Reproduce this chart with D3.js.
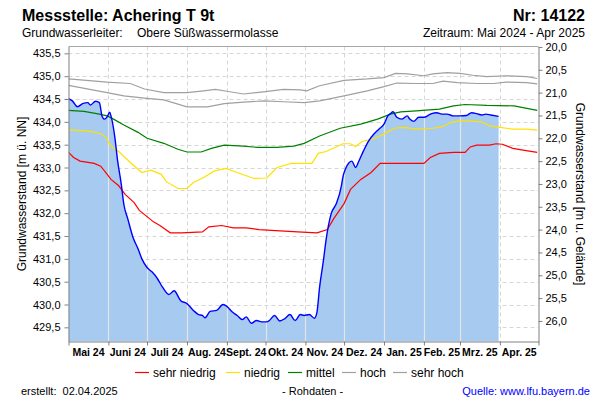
<!DOCTYPE html>
<html><head><meta charset="utf-8">
<script src="https://cdn.jsdelivr.net/npm/d3@7"></script>
<style>
body{margin:0;background:#fff}
svg{display:block;font-family:"Liberation Sans",Arial,Helvetica,sans-serif}
</style>
</head><body>
<svg id="chart" width="600" height="400"></svg>
<script>
// ---------- DATA ----------
const monthLabels = ["Mai 24","Juni 24","Juli 24","Aug. 24","Sept. 24","Okt. 24","Nov. 24","Dez. 24","Jan. 25","Feb. 25","Mrz. 25","Apr. 25"];
const monthStarts = ["2024-05-01","2024-06-01","2024-07-01","2024-08-01","2024-09-01","2024-10-01","2024-11-01","2024-12-01","2025-01-01","2025-02-01","2025-03-01","2025-04-01","2025-05-01"];
const leftTicks = [429.5,430.0,430.5,431.0,431.5,432.0,432.5,433.0,433.5,434.0,434.5,435.0,435.5];
const rightTicks = [20.0,20.5,21.0,21.5,22.0,22.5,23.0,23.5,24.0,24.5,25.0,25.5,26.0];
const groundLevel = 455.64;

const messwerte = [["2024-05-01",434.51],["2024-05-04",434.46],["2024-05-08",434.33],["2024-05-12",434.40],["2024-05-16",434.42],["2024-05-18",434.37],["2024-05-22",434.45],["2024-05-25",434.42],["2024-05-27",434.13],["2024-05-29",434.06],["2024-05-31",434.11],["2024-06-02",434.21],["2024-06-03",434.13],["2024-06-06",433.66],["2024-06-08",433.18],["2024-06-11",432.63],["2024-06-13",432.19],["2024-06-16",431.88],["2024-06-20",431.48],["2024-06-24",431.22],["2024-06-27",431.00],["2024-07-01",430.81],["2024-07-05",430.71],["2024-07-09",430.57],["2024-07-13",430.38],["2024-07-18",430.22],["2024-07-22",430.30],["2024-07-27",430.09],["2024-08-01",430.02],["2024-08-06",429.87],["2024-08-10",429.78],["2024-08-13",429.76],["2024-08-15",429.71],["2024-08-19",429.85],["2024-08-24",429.87],["2024-08-29",430.00],["2024-09-01",429.96],["2024-09-05",429.84],["2024-09-09",429.76],["2024-09-13",429.67],["2024-09-16",429.73],["2024-09-20",429.59],["2024-09-24",429.65],["2024-09-28",429.62],["2024-10-02",429.62],["2024-10-04",429.65],["2024-10-08",429.76],["2024-10-12",429.64],["2024-10-16",429.69],["2024-10-20",429.78],["2024-10-24",429.65],["2024-10-28",429.78],["2024-10-31",429.76],["2024-11-04",429.78],["2024-11-08",429.70],["2024-11-10",429.84],["2024-11-12",430.38],["2024-11-15",430.97],["2024-11-17",431.41],["2024-11-21",431.99],["2024-11-25",432.21],["2024-11-29",432.61],["2024-11-30",432.78],["2024-12-02",432.96],["2024-12-05",433.11],["2024-12-07",433.14],["2024-12-10",433.00],["2024-12-12",433.11],["2024-12-16",433.36],["2024-12-20",433.58],["2024-12-24",433.73],["2024-12-28",433.84],["2025-01-01",433.95],["2025-01-04",434.13],["2025-01-06",434.18],["2025-01-08",434.22],["2025-01-11",434.10],["2025-01-15",434.06],["2025-01-19",434.13],["2025-01-21",434.06],["2025-01-24",434.01],["2025-01-28",434.10],["2025-02-01",434.10],["2025-02-05",434.15],["2025-02-07",434.18],["2025-02-11",434.20],["2025-02-15",434.17],["2025-02-19",434.17],["2025-02-24",434.13],["2025-03-01",434.13],["2025-03-06",434.14],["2025-03-10",434.20],["2025-03-14",434.18],["2025-03-18",434.15],["2025-03-21",434.17],["2025-03-25",434.15],["2025-03-31",434.12]];

const sehrNiedrig = [["2024-05-01",433.33],["2024-05-05",433.22],["2024-05-10",433.14],["2024-05-21",433.09],["2024-05-26",433.03],["2024-05-30",432.89],["2024-06-03",432.74],["2024-06-09",432.60],["2024-06-14",432.41],["2024-06-21",432.23],["2024-06-25",432.06],["2024-07-06",431.81],["2024-07-11",431.73],["2024-07-19",431.57],["2024-07-28",431.57],["2024-08-13",431.59],["2024-08-18",431.70],["2024-08-28",431.73],["2024-09-06",431.68],["2024-09-16",431.68],["2024-09-26",431.64],["2024-10-09",431.62],["2024-10-26",431.59],["2024-11-10",431.57],["2024-11-18",431.64],["2024-11-23",431.88],["2024-12-01",432.21],["2024-12-06",432.52],["2024-12-14",432.74],["2024-12-22",432.89],["2024-12-29",433.09],["2025-02-01",433.09],["2025-02-06",433.22],["2025-02-13",433.31],["2025-02-24",433.33],["2025-03-05",433.33],["2025-03-09",433.45],["2025-03-14",433.49],["2025-03-24",433.49],["2025-03-29",433.52],["2025-04-03",433.51],["2025-04-11",433.42],["2025-04-19",433.38],["2025-04-30",433.33]];

const niedrig = [["2024-05-01",433.83],["2024-05-18",433.79],["2024-05-26",433.74],["2024-05-30",433.66],["2024-06-03",433.47],["2024-06-09",433.35],["2024-06-18",433.11],["2024-06-27",432.89],["2024-07-04",432.94],["2024-07-12",432.85],["2024-07-16",432.69],["2024-07-25",432.54],["2024-08-01",432.54],["2024-08-06",432.67],["2024-08-14",432.78],["2024-08-22",432.92],["2024-08-31",432.98],["2024-09-09",432.89],["2024-09-22",432.76],["2024-10-02",432.77],["2024-10-10",433.00],["2024-10-21",433.09],["2024-11-06",433.09],["2024-11-11",433.31],["2024-11-17",433.35],["2024-11-24",433.44],["2024-11-30",433.52],["2024-12-06",433.52],["2024-12-10",433.46],["2024-12-15",433.57],["2024-12-23",433.62],["2024-12-29",433.69],["2025-01-04",433.78],["2025-01-09",433.86],["2025-01-16",433.88],["2025-01-26",433.84],["2025-02-08",433.86],["2025-02-16",433.90],["2025-02-22",433.99],["2025-03-01",434.02],["2025-03-06",434.02],["2025-03-18",434.00],["2025-03-24",433.91],["2025-04-01",433.88],["2025-04-11",433.84],["2025-04-22",433.84],["2025-04-30",433.82]];

const mittel = [["2024-05-01",434.25],["2024-05-13",434.23],["2024-05-23",434.18],["2024-05-31",434.13],["2024-06-05",434.06],["2024-06-13",433.93],["2024-06-24",433.77],["2024-07-01",433.64],["2024-07-14",433.53],["2024-07-25",433.40],["2024-08-01",433.34],["2024-08-12",433.34],["2024-08-20",433.42],["2024-08-30",433.49],["2024-09-14",433.47],["2024-09-25",433.44],["2024-10-10",433.44],["2024-10-23",433.47],["2024-10-31",433.53],["2024-11-12",433.69],["2024-11-28",433.86],["2024-12-14",433.95],["2024-12-27",434.06],["2025-01-06",434.17],["2025-01-14",434.22],["2025-01-26",434.24],["2025-02-13",434.28],["2025-02-24",434.35],["2025-03-05",434.38],["2025-03-22",434.36],["2025-04-12",434.35],["2025-04-19",434.31],["2025-04-30",434.25]];

const hoch = [["2024-05-01",434.80],["2024-05-31",434.64],["2024-06-13",434.57],["2024-06-29",434.52],["2024-07-14",434.48],["2024-08-01",434.33],["2024-08-17",434.33],["2024-08-30",434.40],["2024-09-14",434.43],["2024-09-30",434.46],["2024-10-15",434.44],["2024-10-31",434.42],["2024-11-12",434.46],["2024-12-01",434.57],["2024-12-19",434.68],["2025-01-01",434.77],["2025-01-11",434.85],["2025-01-26",434.84],["2025-02-08",434.84],["2025-02-16",434.89],["2025-02-27",434.86],["2025-03-14",434.84],["2025-03-27",434.84],["2025-04-06",434.87],["2025-04-22",434.86],["2025-04-30",434.83]];

const sehrHoch = [["2024-05-01",434.94],["2024-05-31",434.87],["2024-06-18",434.84],["2024-06-29",434.72],["2024-07-14",434.64],["2024-08-01",434.64],["2024-08-14",434.68],["2024-08-23",434.71],["2024-09-01",434.67],["2024-09-14",434.61],["2024-10-01",434.66],["2024-10-15",434.71],["2024-10-28",434.70],["2024-11-02",434.68],["2024-11-12",434.79],["2024-12-01",434.91],["2024-12-19",434.94],["2025-01-01",434.97],["2025-01-10",435.06],["2025-01-19",435.05],["2025-02-01",435.01],["2025-02-08",435.05],["2025-02-19",435.08],["2025-03-01",435.06],["2025-03-11",435.02],["2025-03-22",434.99],["2025-04-06",435.01],["2025-04-22",434.99],["2025-04-30",434.95]];

const legendLabels = ["sehr niedrig","niedrig","mittel","hoch","sehr hoch"];
const legendColors = ["#ff0000","#ffe100","#008000","#a0a0a0","#a0a0a0"];

// ---------- CHART ----------
const parse = d3.timeParse("%Y-%m-%d");
const svg = d3.select("#chart");
const L = 68.5, R = 538.5, T = 46.5, B = 341.5;

const x = d3.scaleTime().domain([parse(monthStarts[0]), parse(monthStarts[12])]).range([L, R]);
const y = d3.scaleLinear().domain([429.19, 435.65]).range([B, T]);
const yDepth = d3.scaleLinear().domain([groundLevel - 429.19, groundLevel - 435.65]).range([B, T]);
const fmt = v => d3.format(".1f")(v).replace(".", ",");

svg.append("defs").append("clipPath").attr("id","plot")
  .append("rect").attr("x",L).attr("y",T).attr("width",R-L).attr("height",B-T);

const plot = svg.append("g").attr("clip-path","url(#plot)");

// dashed grid
plot.append("g").selectAll("line").data(leftTicks).join("line")
  .attr("x1",L).attr("x2",R).attr("y1",d=>Math.round(y(d))+0.5).attr("y2",d=>Math.round(y(d))+0.5)
  .attr("stroke","#d6d6d6").attr("stroke-dasharray","4,3");
plot.append("g").selectAll("line").data(monthStarts.slice(1,12)).join("line")
  .attr("x1",d=>Math.round(x(parse(d)))+0.5).attr("x2",d=>Math.round(x(parse(d)))+0.5)
  .attr("y1",T).attr("y2",B)
  .attr("stroke","#d6d6d6").attr("stroke-dasharray","4,3");

// area
const pts = messwerte.map(d=>[parse(d[0]), d[1]]);
const area = d3.area().x(d=>x(d[0])).y0(B).y1(d=>y(d[1])).curve(d3.curveMonotoneX);
plot.append("path").datum(pts).attr("d",area).attr("fill","#a6caf0");
svg.select("defs").append("clipPath").attr("id","areaClip")
  .append("path").datum(pts).attr("d",area);
plot.append("g").attr("clip-path","url(#areaClip)").selectAll("line").data(monthStarts.slice(1,12)).join("line")
  .attr("x1",d=>Math.round(x(parse(d)))+0.5).attr("x2",d=>Math.round(x(parse(d)))+0.5)
  .attr("y1",T).attr("y2",B).attr("stroke","#e4e4e4").attr("stroke-width",1.2);

// stat lines
const line = d3.line().x(d=>x(parse(d[0]))).y(d=>y(d[1]));
[[sehrHoch,"#a0a0a0"],[hoch,"#a0a0a0"],[mittel,"#008000"],[niedrig,"#ffe100"],[sehrNiedrig,"#ff0000"]].forEach(([s,c])=>{
  plot.append("path").datum(s).attr("d",line).attr("fill","none").attr("stroke",c).attr("stroke-width",1.2);
});
const mline = d3.line().x(d=>x(d[0])).y(d=>y(d[1])).curve(d3.curveMonotoneX);
plot.append("path").datum(pts).attr("d",mline).attr("fill","none").attr("stroke","#0000ff").attr("stroke-width",1.4);

// frame
svg.append("line").attr("x1",L).attr("x2",R).attr("y1",T).attr("y2",T).attr("stroke","#a8a8a8");

// axes
const styleAxis = g => { g.select(".domain").attr("stroke","#808080"); g.selectAll(".tick line").attr("stroke","#808080");
  g.selectAll(".tick text").attr("fill","#000").attr("font-size","11px").attr("font-family","Liberation Sans, Arial, sans-serif"); };
svg.append("g").attr("transform",`translate(${L},0)`)
  .call(d3.axisLeft(y).tickValues(leftTicks).tickFormat(fmt).tickSize(4).tickPadding(4).tickSizeOuter(0)).call(styleAxis);
svg.append("g").attr("transform",`translate(${R},0)`)
  .call(d3.axisRight(yDepth).tickValues(rightTicks).tickFormat(fmt).tickSize(4).tickPadding(3).tickSizeOuter(0)).call(styleAxis);
const xa = svg.append("g").attr("transform",`translate(0,${B})`)
  .call(d3.axisBottom(x).tickValues(monthStarts.map(parse)).tickFormat("").tickSize(4).tickSizeOuter(0)).call(styleAxis);
// month labels centered in month
svg.append("g").selectAll("text").data(monthLabels).join("text")
  .attr("x",(d,i)=>(x(parse(monthStarts[i]))+x(parse(monthStarts[i+1])))/2)
  .attr("y",355.5).attr("text-anchor","middle").attr("font-size","10.5px").attr("font-weight","bold").text(d=>d);

// axis titles
svg.append("text").attr("transform","translate(25.5,194) rotate(-90)").attr("text-anchor","middle")
  .attr("font-size","12px").text("Grundwasserstand [m ü. NN]");
svg.append("text").attr("transform","translate(575.5,194) rotate(90)").attr("text-anchor","middle")
  .attr("font-size","12px").text("Grundwasserstand [m u. Gelände]");

// titles
svg.append("text").attr("x",22).attr("y",20.5).attr("font-size","16px").attr("font-weight","bold").text("Messstelle: Achering T 9t");
svg.append("text").attr("x",585).attr("y",20.5).attr("text-anchor","end").attr("font-size","16px").attr("font-weight","bold").text("Nr: 14122");
svg.append("text").attr("x",22).attr("y",37).attr("font-size","12px").text("Grundwasserleiter:");
svg.append("text").attr("x",137).attr("y",37).attr("font-size","12px").text("Obere Süßwassermolasse");
svg.append("text").attr("x",585).attr("y",37).attr("text-anchor","end").attr("font-size","12px").text("Zeitraum: Mai 2024 - Apr 2025");

// legend
const legendX = [135,226,288,342,393];
const lg = svg.append("g").selectAll("g").data(legendLabels).join("g")
  .attr("transform",(d,i)=>`translate(${legendX[i]},0)`);
lg.append("line").attr("x1",0).attr("x2",14).attr("y1",372.5).attr("y2",372.5)
  .attr("stroke",(d,i)=>legendColors[i]).attr("stroke-width",1.2);
lg.append("text").attr("x",18).attr("y",377).attr("font-size","12px").text(d=>d);

// footer
svg.append("text").attr("x",21).attr("y",395).attr("font-size","11px").style("white-space","pre").text("erstellt:  02.04.2025");
svg.append("text").attr("x",282).attr("y",395).attr("font-size","11px").text("- Rohdaten -");
svg.append("text").attr("x",590).attr("y",395).attr("text-anchor","end").attr("font-size","11px").attr("fill","#0000ff").text("Quelle: www.lfu.bayern.de");
</script>
</body></html>
